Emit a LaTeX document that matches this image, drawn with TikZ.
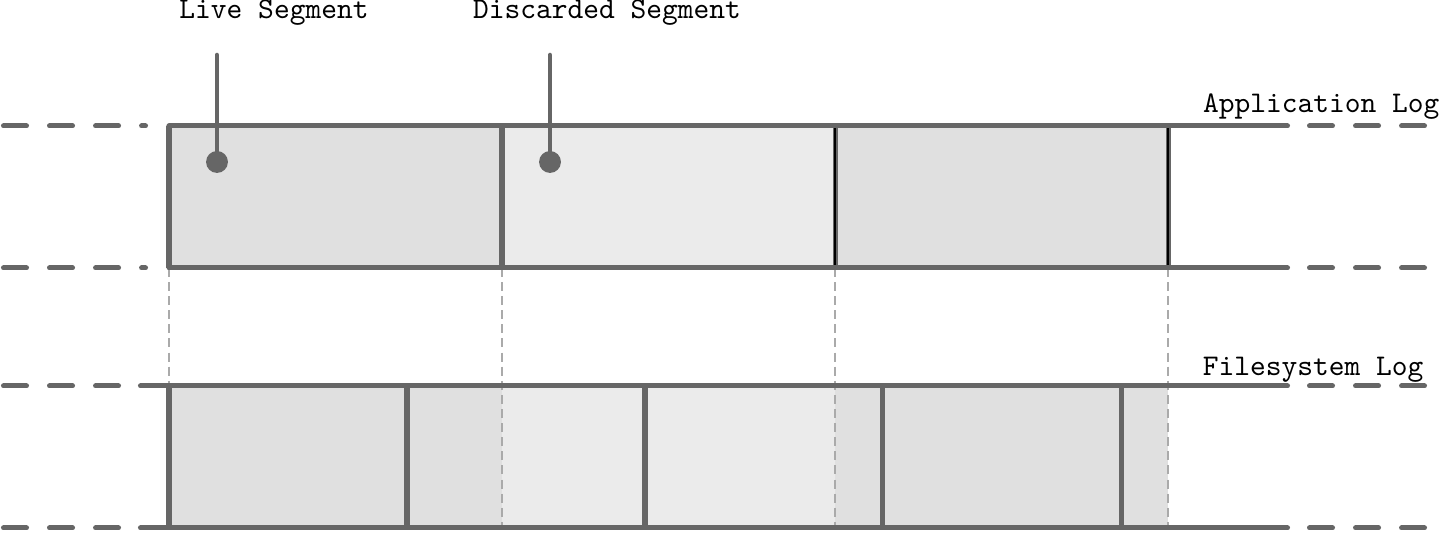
\documentclass[tikz,border=0pt]{standalone}
\usepackage{tikz}
\usetikzlibrary{positioning, calc}
\tikzset{every node/.style={font=\ttfamily}}
\usepackage{xcolor}
\definecolor{logstroke}{HTML}{666666}
\definecolor{livefill}{HTML}{E0E0E0}
\definecolor{deadfill}{HTML}{EBEBEB}
\definecolor{guidegray}{HTML}{AAAAAA}

\begin{document}
\begin{tikzpicture}[
    x=0.3333pt, y=-0.3333pt,
    logline/.style={draw=logstroke, line width=1.67pt, line cap=round},
    logdash/.style={logline, dash pattern=on 7.67pt off 7.67pt},
    wall/.style={draw=logstroke, line width=1.67pt},
    guide/.style={draw=guidegray, line width=0.5pt, dash pattern=on 3pt off 1.7pt},
    pinline/.style={draw=logstroke, line width=1.5pt, line cap=round},
    pindot/.style={circle, fill=logstroke, inner sep=0pt, minimum size=7.3pt},
    loglabel/.style={inner sep=0pt},
  ]
  \useasboundingbox (0,0) rectangle (1441,533);

  % segment edges of the application log, projected down
  \foreach \x [count=\i from 0] in {169,502,835,1168} {
    \coordinate (at\i) at (\x,126);
    \coordinate (ab\i) at (\x,268);
    \coordinate (ft\i) at (\x,386);
    \coordinate (fb\i) at (\x,528);
  }
  % block edges of the filesystem log
  \foreach \x [count=\i from 0] in {169,407,645,882,1121} {
    \coordinate (bt\i) at (\x,386);
    \coordinate (bb\i) at (\x,528);
  }

  \fill[livefill] (at0) rectangle (ab1);
  \fill[deadfill] (at1) rectangle (ab2);
  \fill[livefill] (at2) rectangle (ab3);
  \fill[livefill] (ft0) rectangle (fb1);
  \fill[deadfill] (ft1) rectangle (fb2);
  \fill[livefill] (ft2) rectangle (fb3);

  \foreach \i in {0,...,3}
    \draw[guide] (ab\i) -- (fb\i);

  % application log
  \coordinate (atl) at (3.5,126);   \coordinate (atm) at (145.5,126);
  \coordinate (abl) at (3.5,268);   \coordinate (abm) at (145.5,268);
  \coordinate (atr) at (1287.5,126); \coordinate (abr) at (1287.5,268);
  \coordinate (atd) at (1309.5,126); \coordinate (ate) at (1424.5,126);
  \coordinate (abd) at (1309.5,268); \coordinate (abe) at (1424.5,268);
  \draw[logdash] (atl) -- (atm);
  \draw[logdash] (abl) -- (abm);
  \draw[logdash] (atd) -- (ate);
  \draw[logdash] (abd) -- (abe);
  \draw[wall] (ab0) -- (at0);
  \draw[wall] (at1) -- (ab1);
  \draw[wall] (at2) -- (ab2);
  \draw[wall] (at3) -- (ab3);
  \draw[black, line width=0.6pt] (at2) -- (ab2);
  \draw[black, line width=0.6pt] (at3) -- (ab3);
  \draw[logline] (at0) -- (atr);
  \draw[logline] (ab0) -- (abr);

  % filesystem log
  \coordinate (ftl) at (3.5,386);   \coordinate (ftm) at (118.5,386);
  \coordinate (fbl) at (3.5,528);   \coordinate (fbm) at (118.5,528);
  \coordinate (fts) at (140.5,386); \coordinate (fbs) at (140.5,528);
  \coordinate (ftr) at (1287.5,386); \coordinate (fbr) at (1287.5,528);
  \coordinate (ftd) at (1309.5,386); \coordinate (fte) at (1424.5,386);
  \coordinate (fbd) at (1309.5,528); \coordinate (fbe) at (1424.5,528);
  \draw[logdash] (ftl) -- (ftm);
  \draw[logdash] (fbl) -- (fbm);
  \draw[logdash] (ftd) -- (fte);
  \draw[logdash] (fbd) -- (fbe);
  \foreach \i in {0,...,4}
    \draw[wall] (bt\i) -- (bb\i);
  \draw[logline] (fts) -- (ftr);
  \draw[logline] (fbs) -- (fbr);

  % callouts
  \node[pindot] (livedot) at (217,162) {};
  \node[pindot] (deaddot) at (550,162) {};
  \coordinate (livetop) at (217,55);
  \coordinate (deadtop) at (550,55);
  \draw[pinline] (livetop) -- (livedot.center);
  \draw[pinline] (deadtop) -- (deaddot.center);

  \node[loglabel, anchor=base] (livelabel) at (274,19) {Live Segment};
  \node[loglabel, anchor=base] (deadlabel) at (607,19) {Discarded Segment};
  \node[loglabel, anchor=base east] (applabel) at (1440,113) {Application Log};
  \node[loglabel, anchor=base east] (fslabel) at (1424,376) {Filesystem Log};
\end{tikzpicture}
\end{document}
